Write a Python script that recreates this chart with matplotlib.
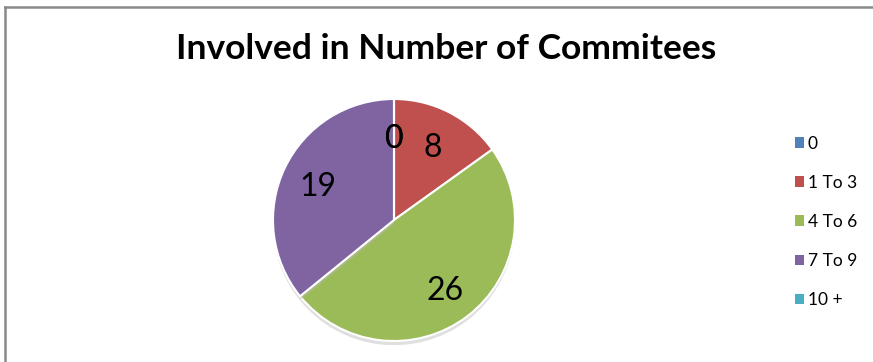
import matplotlib
matplotlib.use("Agg")
import matplotlib.pyplot as plt
from matplotlib.patches import Patch
from matplotlib.lines import Line2D
from matplotlib.transforms import offset_copy
import matplotlib.patheffects as pe

categories = ["0", "1 To 3", "4 To 6", "7 To 9", "10 +"]
counts = [0, 8, 26, 19, 0]
colors = ["#4F81BD", "#C0504D", "#9BBB59", "#8064A2", "#4BACC6"]
title = "Involved in Number of Commitees"

W, H = 873, 362
fig = plt.figure(figsize=(W / 100, H / 100), dpi=100)
fig.patch.set_facecolor("white")
plt.rcParams["font.family"] = ["Lato", "DejaVu Sans"]

# chart frame (top and left edges)
frame_kw = dict(color="#8a8a8a", linewidth=1.8, transform=fig.transFigure)
fig.add_artist(Line2D([5 / W, 1], [1 - 7 / H, 1 - 7 / H], **frame_kw))
fig.add_artist(Line2D([5 / W, 5 / W], [0, 1 - 7 / H], **frame_kw))

fig.text(446 / W, 1 - 49 / H, title, ha="center", va="center",
         fontsize=25.5, fontweight="bold", color="black")

# pie placement in pixels
cx, cy, r = 394, 220, 121
ax = fig.add_axes([(cx - r) / W, (H - cy - r) / H, 2 * r / W, 2 * r / H])
ax.axis("off")

wedges, texts, autotexts = ax.pie(
    counts, colors=colors, startangle=90, counterclock=False, radius=1.0,
    autopct=lambda p: f"{round(p * sum(counts) / 100):d}", pctdistance=0.7,
    wedgeprops=dict(edgecolor="white", linewidth=1.5),
    textprops=dict(fontsize=23, color="black"),
)
ax.set_xlim(-1.0, 1.0)
ax.set_ylim(-1.0, 1.0)
ax.set_aspect("equal")
for w in wedges:
    w.set_path_effects([pe.SimplePatchShadow(offset=(0, -3), shadow_rgbFace="#b8b8b8", alpha=0.45), pe.Normal()])
for t in autotexts:
    t.set_transform(offset_copy(ax.transData, fig=fig, x=0, y=-2.5, units="points"))

handles = [Patch(facecolor=c, edgecolor="none") for c in colors]
fig.legend(handles, categories, loc="upper left",
           bbox_to_anchor=(786 / W, 1 - 127 / H), frameon=False,
           fontsize=12.5, handlelength=0.55, handleheight=0.55,
           handletextpad=0.2, labelspacing=1.33, borderpad=0)

fig.savefig("out.png", dpi=100)
